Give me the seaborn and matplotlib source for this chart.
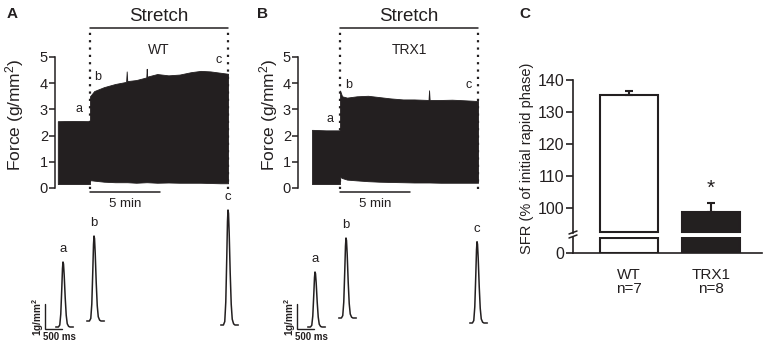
import numpy as np
import pandas as pd
import matplotlib
matplotlib.use("Agg")
import matplotlib.pyplot as plt
import seaborn as sns
from matplotlib.lines import Line2D

sns.set_style("white")
plt.rcParams['font.family'] = ['Liberation Sans', 'DejaVu Sans']
plt.rcParams['mathtext.fontset'] = 'custom'
plt.rcParams['mathtext.rm'] = 'Liberation Sans'
plt.rcParams['mathtext.it'] = 'Liberation Sans:italic'
plt.rcParams['mathtext.bf'] = 'Liberation Sans:bold'

# ---------------- data ----------------
# Force traces (envelope of the continuous recording), time in min relative to stretch
wt_time  = [-2.3, -1.2, 0.0, 0.0, 0.3, 1.0, 1.8, 2.58, 2.62, 2.66, 3.3, 4.02, 4.05, 4.08, 4.8, 5.6, 6.4, 7.2, 7.9, 8.6, 9.3, 9.86]
wt_upper = [2.55, 2.56, 2.55, 3.5, 3.7, 3.85, 3.97, 4.05, 4.45, 4.08, 4.12, 4.22, 4.55, 4.25, 4.35, 4.3, 4.33, 4.42, 4.47, 4.45, 4.4, 4.36]
wt_lower = [0.15, 0.15, 0.15, 0.3, 0.28, 0.24, 0.22, 0.22, 0.22, 0.22, 0.2, 0.22, 0.22, 0.22, 0.2, 0.21, 0.2, 0.2, 0.2, 0.19, 0.18, 0.18]

trx_time  = [-2.0, -1.0, 0.0, 0.0, 0.15, 0.5, 1.2, 2.0, 2.8, 3.6, 4.5, 5.3, 6.32, 6.36, 6.40, 7.2, 8.0, 8.8, 9.86]
trx_upper = [2.22, 2.2, 2.2, 3.72, 3.5, 3.45, 3.5, 3.52, 3.47, 3.42, 3.38, 3.38, 3.36, 3.73, 3.36, 3.36, 3.37, 3.35, 3.32]
trx_lower = [0.15, 0.15, 0.15, 0.42, 0.38, 0.32, 0.29, 0.26, 0.24, 0.23, 0.22, 0.21, 0.21, 0.21, 0.21, 0.2, 0.2, 0.2, 0.2]

# Single twitch shape (ms from start, fraction of peak)
twitch_ms   = [0, 80, 120, 150, 180, 200, 215, 230, 250, 280, 310, 340, 380, 420, 520]
twitch_frac = [0, 0, 0.03, 0.2, 0.6, 0.9, 1.0, 0.97, 0.8, 0.45, 0.18, 0.05, 0.01, 0, 0]
twitch_labels = ['a', 'b', 'c']
wt_twitch_peak_ms = [676, 1588, 5527]
wt_twitch_base    = [0.52, 0.76, 0.60]
wt_twitch_amp     = [2.6, 3.4, 4.6]
trx_twitch_peak_ms = [735, 1646, 5498]
trx_twitch_base    = [0.52, 0.88, 0.68]
trx_twitch_amp     = [2.2, 3.2, 3.25]

# Panel C
groups = ['WT\nn=7', 'TRX1\nn=8']
sfr_mean = [135.3, 98.65]
sfr_sem = [1.3, 2.9]

force_ticks = [0, 1, 2, 3, 4, 5]
sfr_ticks = [100, 110, 120, 130, 140]

# ---------------- layout ----------------
W, H = 767, 346
DARK = '#231f20'
fig = plt.figure(figsize=(W / 100, H / 100), dpi=100)


def ax_px(l, t, r, b):
    return fig.add_axes([l / W, 1 - b / H, (r - l) / W, (b - t) / H])


def force_panel(l, r, xlim, time, upper, lower, name, lab_pos, letter, letter_x, ylab_x):
    ax = ax_px(l, 57, r, 188)
    ax.fill_between(time, lower, upper, color=DARK, linewidth=0.6, edgecolor=DARK)
    ax.set_xlim(*xlim)
    ax.set_ylim(0, 5)
    for s in ['top', 'right', 'bottom']:
        ax.spines[s].set_visible(False)
    ax.spines['left'].set_linewidth(1.1)
    ax.spines['left'].set_color(DARK)
    ax.set_yticks(force_ticks)
    ax.tick_params(axis='y', left=True, length=4, width=1.1, labelsize=10.5, pad=1, colors=DARK)
    ax.set_xticks([])
    t_end = time[-1]
    # stretch markers
    for tx in [0, t_end]:
        ax.plot([tx, tx], [-0.05, 6.05], color=DARK, lw=1.6, linestyle=(0, (1, 2.3)),
                clip_on=False, zorder=5)
    ax.plot([0, t_end], [6.1, 6.1], color=DARK, lw=1.1, clip_on=False)
    ax.text(t_end / 2, 6.55, 'Stretch', ha='center', va='center', fontsize=13.5, color=DARK)
    ax.text(t_end / 2, 5.25, name, ha='center', va='center', fontsize=10, color=DARK)
    # 5 min bar
    ax.plot([0, 5], [-0.15, -0.15], color=DARK, lw=1.1, clip_on=False)
    ax.text(2.5, -0.62, '5 min', ha='center', va='center', fontsize=9.5, color=DARK)
    for lab, (x, y) in zip(twitch_labels, lab_pos):
        ax.text(x, y, lab, ha='center', va='center', fontsize=9, color=DARK)
    fig.text(letter_x / W, 1 - 14 / H, letter, fontsize=11, fontweight='bold', ha='center', va='center', color=DARK)
    fig.text(ylab_x / W, 1 - 115 / H, r'Force (g/mm$^{2}$)', rotation=90, fontsize=12.5,
             ha='center', va='center', color=DARK)
    return ax


force_panel(55, 232, (-2.5, 10.14), wt_time, wt_upper, wt_lower, 'WT',
            [(-0.79, 3.0), (0.55, 4.24), (9.17, 4.87)], 'A', 12, 15)
force_panel(298, 482, (-3.0, 10.14), trx_time, trx_upper, trx_lower, 'TRX1',
            [(-0.71, 2.65), (0.6, 3.92), (9.17, 3.92)], 'B', 263, 269)


def twitch_panel(l, peaks, bases, amps, bar_x, lab_off):
    ax = ax_px(l, 195, l + 205, 340)
    ax.set_xlim(0, 205 * 29.4)
    ax.set_ylim(0, 5.8)
    ax.axis('off')
    for lab, pk, b0, amp in zip(twitch_labels, peaks, bases, amps):
        t0 = pk - 215
        xs = [t0 + m for m in twitch_ms]
        ys = [b0 + amp * f for f in twitch_frac]
        ax.plot(xs, ys, color=DARK, lw=1.1)
        ax.text(pk, b0 + amp + lab_off, lab, ha='center', va='center', fontsize=9.5, color=DARK)
    # scale bars
    ax.plot([bar_x, bar_x, bar_x + 500], [1.44, 0.44, 0.44], color=DARK, lw=1.0,
            solid_joinstyle='miter')
    ax.text(bar_x - 210, 0.94, r'1g/mm$^{\mathbf{2}}$', rotation=90, ha='center', va='center',
            fontsize=7.2, fontweight='bold', color=DARK)
    ax.text(bar_x + 420, 0.1, '500 ms', ha='center', va='center',
            fontsize=7, fontweight='bold', color=DARK)


twitch_panel(40, wt_twitch_peak_ms, wt_twitch_base, wt_twitch_amp, 147, 0.5)
twitch_panel(290, trx_twitch_peak_ms, trx_twitch_base, trx_twitch_amp, 206, 0.5)

# ---------------- Panel C ----------------
df = pd.DataFrame({'group': groups, 'sfr': sfr_mean})
ax_up = ax_px(573, 80, 762, 233)
ax_lo = ax_px(573, 237, 762, 253)
lo_up, hi_up = 92.2, 140
for ax in [ax_up, ax_lo]:
    sns.barplot(data=df, x='group', y='sfr', hue='group', palette=['white', DARK],
                edgecolor=DARK, linewidth=1.5, width=0.71, legend=False, ax=ax)
    ax.set_xlim(-0.683, 1.62)
    ax.set_xlabel('')
    ax.set_ylabel('')
    for s in ['top', 'right']:
        ax.spines[s].set_visible(False)
    ax.spines['left'].set_linewidth(1.2)
    ax.spines['left'].set_color(DARK)

ax_up.set_ylim(lo_up, hi_up)
for p in ax_up.patches:
    h = p.get_height()
    p.set_y(lo_up + 0.3)
    p.set_height(h - lo_up - 0.3)
    p.set_clip_on(False)
ax_up.errorbar([0, 1], sfr_mean, yerr=[[0, 0], sfr_sem], fmt='none', ecolor=DARK,
               elinewidth=1.5, capsize=3, capthick=1.5)
ax_up.spines['bottom'].set_visible(False)
ax_up.set_xticks([])
ax_up.set_yticks(sfr_ticks)
ax_up.tick_params(axis='y', left=True, length=5, width=1.2, labelsize=11.5, pad=1, colors=DARK)
ax_up.text(1, 106.3, '*', ha='center', va='center', fontsize=15, color=DARK)

ax_lo.set_ylim(0, 5)
for p in ax_lo.patches:
    p.set_height(4.6)
ax_lo.set_yticks([0])
ax_lo.spines['bottom'].set_linewidth(1.2)
ax_lo.spines['bottom'].set_color(DARK)
ax_lo.tick_params(axis='y', left=True, length=5, width=1.2, labelsize=11.5, pad=1, colors=DARK)
ax_lo.tick_params(axis='x', bottom=False, length=0, labelsize=11, pad=11, colors=DARK)
for lbl in ax_lo.get_xticklabels():
    lbl.set_linespacing(1.0)

# break marks on the y axis
for yy in [232.5, 236.5]:
    fig.add_artist(Line2D([569 / W, 577 / W], [1 - (yy + 1.5) / H, 1 - (yy - 1.5) / H],
                          color=DARK, lw=1.1))

fig.text(527 / W, 1 - 158 / H, 'SFR (% of initial rapid phase)', rotation=90,
         fontsize=10.5, ha='center', va='center', color=DARK)
fig.text(525 / W, 1 - 14 / H, 'C', fontsize=11, fontweight='bold', ha='center', va='center', color=DARK)

fig.savefig('out.png', dpi=100)
